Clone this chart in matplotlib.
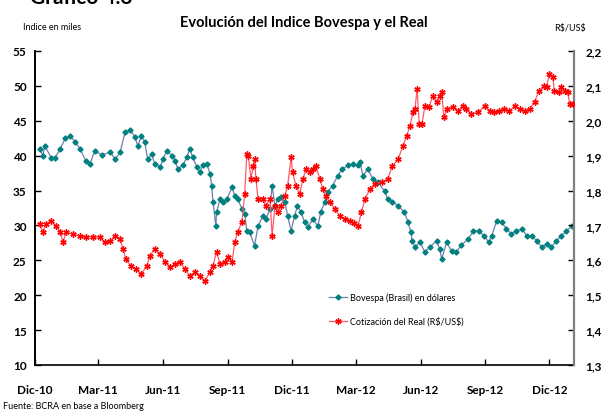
import matplotlib
matplotlib.use("Agg")
import matplotlib.pyplot as plt
from matplotlib.ticker import FixedLocator, FuncFormatter
import pandas as pd

plt.rcParams['font.family'] = ['Lato', 'DejaVu Sans']

title = "Evolución del Indice Bovespa y el Real"
left_label = "Indice en miles"
right_label = "R$/US$"
source = "Fuente: BCRA en base a Bloomberg"
series_names = ["Bovespa (Brasil) en dólares", "Cotización del Real (R$/US$)"]

bov_dates = ["2010-12-08", "2010-12-12", "2010-12-15", "2010-12-24", "2010-12-29",
             "2011-01-06", "2011-01-13", "2011-01-20", "2011-01-27", "2011-02-03",
             "2011-02-11", "2011-02-17", "2011-02-24", "2011-03-06", "2011-03-18",
             "2011-03-25", "2011-04-01", "2011-04-08", "2011-04-15", "2011-04-22",
             "2011-04-26", "2011-05-01", "2011-05-06", "2011-05-10", "2011-05-16",
             "2011-05-20", "2011-05-28", "2011-06-01", "2011-06-06", "2011-06-14",
             "2011-06-18", "2011-06-22", "2011-06-29", "2011-07-05", "2011-07-09",
             "2011-07-13", "2011-07-19", "2011-07-23", "2011-07-28", "2011-08-02",
             "2011-08-07", "2011-08-09", "2011-08-11", "2011-08-15", "2011-08-16",
             "2011-08-21", "2011-08-25", "2011-08-31", "2011-09-07", "2011-09-11",
             "2011-09-15", "2011-09-21", "2011-09-25", "2011-09-28", "2011-10-02",
             "2011-10-09", "2011-10-14", "2011-10-21", "2011-10-25", "2011-10-31",
             "2011-11-03", "2011-11-07", "2011-11-11", "2011-11-15", "2011-11-21",
             "2011-11-25", "2011-11-30", "2011-12-05", "2011-12-09", "2011-12-14",
             "2011-12-19", "2011-12-24", "2011-12-31", "2012-01-07", "2012-01-11",
             "2012-01-17", "2012-01-21", "2012-01-28", "2012-02-04", "2012-02-11",
             "2012-02-19", "2012-02-26", "2012-03-04", "2012-03-07", "2012-03-11",
             "2012-03-18", "2012-03-25", "2012-04-01", "2012-04-11", "2012-04-15",
             "2012-04-22", "2012-04-30", "2012-05-09", "2012-05-14", "2012-05-18",
             "2012-05-20", "2012-05-24", "2012-05-31", "2012-06-07", "2012-06-14",
             "2012-06-24", "2012-06-28", "2012-07-01", "2012-07-08", "2012-07-15",
             "2012-07-22", "2012-07-29", "2012-08-08", "2012-08-15", "2012-08-23",
             "2012-08-30", "2012-09-06", "2012-09-10", "2012-09-17", "2012-09-24",
             "2012-10-01", "2012-10-08", "2012-10-15", "2012-10-23", "2012-10-30",
             "2012-11-06", "2012-11-13", "2012-11-20", "2012-11-27", "2012-12-04",
             "2012-12-11", "2012-12-18", "2012-12-25", "2013-01-02"]
bov_values = [41.0, 40.0, 41.4, 39.7, 39.6,
              41.0, 42.5, 42.8, 42.0, 41.0,
              39.3, 38.8, 40.7, 40.1, 40.5,
              39.5, 40.5, 43.4, 43.7, 42.7,
              41.4, 42.8, 42.0, 39.5, 40.2,
              38.8, 38.4, 39.5, 40.7, 40.0,
              39.3, 38.1, 38.6, 39.8, 41.0,
              39.8, 38.4, 37.7, 38.6, 38.8,
              37.4, 35.7, 33.4, 29.9, 31.9,
              33.8, 33.4, 33.8, 35.5, 34.2,
              33.8, 32.4, 31.7, 29.2, 29.0,
              27.1, 29.9, 31.4, 30.9, 32.4,
              35.7, 32.8, 33.8, 34.1, 33.4,
              31.4, 29.2, 31.4, 32.8, 31.9,
              30.5, 29.8, 30.9, 29.9, 31.9,
              33.4, 34.8, 35.7, 37.1, 38.1,
              38.6, 38.8, 38.6, 39.1, 37.1,
              38.1, 36.7, 36.2, 34.9, 33.8,
              33.4, 32.8, 31.9, 30.5, 29.1,
              27.8, 26.9, 27.6, 26.2, 26.9,
              27.8, 26.6, 25.2, 27.6, 26.3,
              26.2, 27.2, 28.1, 29.2, 29.2,
              28.5, 27.6, 28.5, 30.6, 30.5,
              29.5, 28.8, 29.2, 29.5, 28.5,
              28.5, 27.8, 26.9, 27.3, 26.9,
              27.8, 28.5, 29.2, 29.9]

real_dates = ["2010-12-08", "2010-12-12", "2010-12-17", "2010-12-24", "2010-12-31",
              "2011-01-06", "2011-01-10", "2011-01-14", "2011-01-24", "2011-02-03",
              "2011-02-11", "2011-02-21", "2011-03-03", "2011-03-10", "2011-03-18",
              "2011-03-25", "2011-04-01", "2011-04-05", "2011-04-09", "2011-04-16",
              "2011-04-23", "2011-05-01", "2011-05-09", "2011-05-13", "2011-05-20",
              "2011-05-28", "2011-06-04", "2011-06-11", "2011-06-18", "2011-06-25",
              "2011-07-02", "2011-07-09", "2011-07-16", "2011-07-23", "2011-07-30",
              "2011-08-07", "2011-08-11", "2011-08-16", "2011-08-21", "2011-08-28",
              "2011-09-01", "2011-09-07", "2011-09-11", "2011-09-15", "2011-09-21",
              "2011-09-25", "2011-09-28", "2011-09-30", "2011-10-04", "2011-10-07",
              "2011-10-09", "2011-10-11", "2011-10-14", "2011-10-21", "2011-10-25",
              "2011-10-31", "2011-11-03", "2011-11-07", "2011-11-11", "2011-11-15",
              "2011-11-21", "2011-11-25", "2011-11-30", "2011-12-02", "2011-12-07",
              "2011-12-12", "2011-12-17", "2011-12-21", "2011-12-27", "2011-12-31",
              "2012-01-04", "2012-01-10", "2012-01-14", "2012-01-18", "2012-01-24",
              "2012-01-31", "2012-02-07", "2012-02-14", "2012-02-21", "2012-02-28",
              "2012-03-04", "2012-03-09", "2012-03-14", "2012-03-21", "2012-03-28",
              "2012-04-07", "2012-04-15", "2012-04-22", "2012-04-30", "2012-05-07",
              "2012-05-12", "2012-05-17", "2012-05-21", "2012-05-24", "2012-05-27",
              "2012-05-30", "2012-06-03", "2012-06-07", "2012-06-13", "2012-06-18",
              "2012-06-24", "2012-06-28", "2012-07-01", "2012-07-04", "2012-07-09",
              "2012-07-17", "2012-07-24", "2012-07-31", "2012-08-05", "2012-08-12",
              "2012-08-22", "2012-08-31", "2012-09-07", "2012-09-14", "2012-09-21",
              "2012-09-28", "2012-10-05", "2012-10-13", "2012-10-20", "2012-10-27",
              "2012-11-03", "2012-11-10", "2012-11-16", "2012-11-23", "2012-11-27",
              "2012-12-01", "2012-12-06", "2012-12-08", "2012-12-14", "2012-12-18",
              "2012-12-23", "2012-12-27", "2012-12-30", "2013-01-03"]
real_values = [1.704, 1.681, 1.704, 1.713, 1.698,
               1.681, 1.652, 1.681, 1.675, 1.670,
               1.667, 1.667, 1.667, 1.652, 1.655,
               1.670, 1.661, 1.632, 1.604, 1.584,
               1.575, 1.561, 1.584, 1.612, 1.632,
               1.618, 1.595, 1.581, 1.589, 1.595,
               1.575, 1.555, 1.566, 1.555, 1.541,
               1.566, 1.584, 1.624, 1.589, 1.595,
               1.609, 1.595, 1.652, 1.681, 1.710,
               1.790, 1.905, 1.899, 1.833, 1.870,
               1.890, 1.833, 1.776, 1.776, 1.756,
               1.776, 1.670, 1.756, 1.738, 1.756,
               1.784, 1.813, 1.896, 1.853, 1.813,
               1.790, 1.833, 1.862, 1.853, 1.862,
               1.870, 1.833, 1.804, 1.784, 1.767,
               1.747, 1.727, 1.718, 1.713, 1.706,
               1.698, 1.738, 1.776, 1.804, 1.819,
               1.824, 1.833, 1.870, 1.890, 1.928,
               1.956, 1.985, 2.025, 2.034, 2.091,
               1.991, 1.991, 2.042, 2.039, 2.071,
               2.054, 2.071, 2.082, 2.011, 2.034,
               2.039, 2.028, 2.042, 2.034, 2.019,
               2.025, 2.042, 2.028, 2.025, 2.028,
               2.034, 2.028, 2.042, 2.034, 2.028,
               2.034, 2.054, 2.085, 2.099, 2.097,
               2.134, 2.125, 2.085, 2.082, 2.097,
               2.085, 2.082, 2.048, 2.048]

x_tick_dates = ["2010-12-01", "2011-03-01", "2011-06-01", "2011-09-01", "2011-12-01",
                "2012-03-01", "2012-06-01", "2012-09-01", "2012-12-01"]
x_tick_labels = ["Dic-10", "Mar-11", "Jun-11", "Sep-11", "Dic-11",
                 "Mar-12", "Jun-12", "Sep-12", "Dic-12"]
left_ticks = [10, 15, 20, 25, 30, 35, 40, 45, 50, 55]
right_ticks = [1.3, 1.4, 1.5, 1.6, 1.7, 1.8, 1.9, 2.0, 2.1, 2.2]


def esc(s):
    return s.replace("$", r"\$")


bd = pd.to_datetime(bov_dates)
rd = pd.to_datetime(real_dates)

fig = plt.figure(figsize=(6.01, 4.14), dpi=100)
ax = fig.add_axes([35/601, 1-366/414, (574-35)/601, (366-52)/414])
ax2 = ax.twinx()

teal = "#00807f"
red = "#ff0000"

l1, = ax.plot(bd, bov_values, color="#6f7fae", lw=0.9, marker="D", ms=2.6,
              mfc=teal, mec=teal, label=esc(series_names[0]), zorder=3)
l2, = ax2.plot(rd, real_values, color="#ff5a6a", lw=0.9, marker=(6, 2, 0), ms=4.5,
               mec=red, mfc=red, mew=1.0, label=esc(series_names[1]), zorder=3)

ax.set_ylim(10, 55)
ax2.set_ylim(1.3, 2.2)
ax.set_xlim(pd.Timestamp("2010-12-01"), pd.Timestamp("2013-01-05"))

ax.yaxis.set_major_locator(FixedLocator(left_ticks))
ax2.yaxis.set_major_locator(FixedLocator(right_ticks))
ax2.yaxis.set_major_formatter(FuncFormatter(lambda v, p: f"{v:.1f}".replace(".", ",")))
ax.set_xticks(pd.to_datetime(x_tick_dates))
ax.set_xticklabels(x_tick_labels)

for a in (ax, ax2):
    a.spines['top'].set_visible(False)
ax.spines['left'].set_linewidth(1.4)
ax.spines['bottom'].set_linewidth(1.2)
ax.spines['right'].set_visible(False)
ax2.spines['left'].set_visible(False)
ax2.spines['bottom'].set_visible(False)
ax2.spines['right'].set_color("#808080")
ax2.spines['right'].set_linewidth(1.6)

ax.tick_params(axis='y', direction='in', length=4, width=1, pad=6, labelsize=8.5)
ax.tick_params(axis='x', direction='in', length=4, width=1, pad=14, labelsize=8.5)
ax2.tick_params(axis='y', direction='in', length=4, width=1, pad=8, labelsize=8.5)
for lab in ax.get_xticklabels() + ax.get_yticklabels() + ax2.get_yticklabels():
    lab.set_fontweight('bold')

fig.text(304/601, 1-23/414, title, ha='center', va='center', fontsize=10.5, fontweight='bold')
fig.text(52/601, 1-28/414, left_label, ha='center', va='center', fontsize=6.5)
fig.text(570/601, 1-28/414, right_label, ha='center', va='center', fontsize=6.5, parse_math=False)
fig.text(3/601, 1-407/414, source, ha='left', va='center', fontsize=6.5)
fig.text(30/601, 1-4/414, "Gráfico 4.3", ha='left', va='baseline', fontsize=15, fontweight='bold')

leg = ax.legend(handles=[l1, l2], loc='upper left', bbox_to_anchor=(290/539, 1-(290-52)/314),
                frameon=False, fontsize=6.5, handlelength=2.0, labelspacing=1.6,
                borderaxespad=0, handletextpad=0.4)

fig.savefig("out.png", dpi=100)
